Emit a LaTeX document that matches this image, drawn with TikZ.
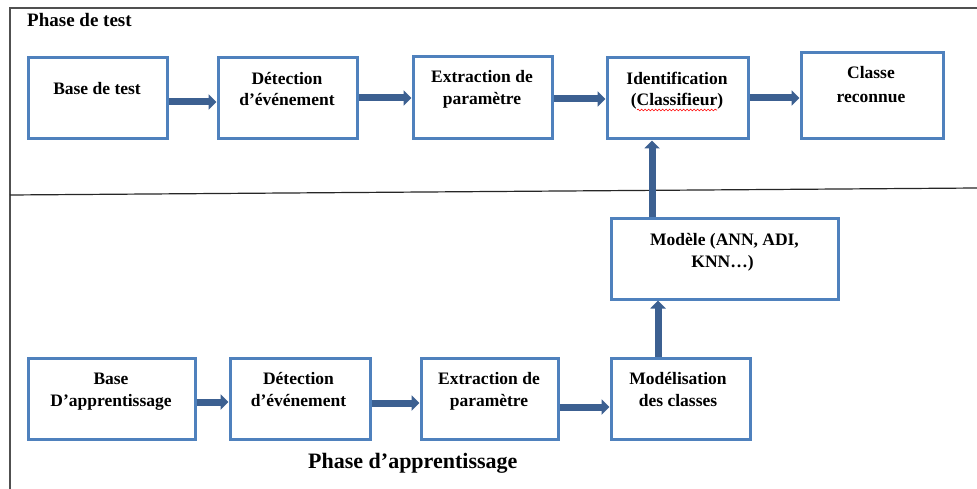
\documentclass[tikz,border=0pt]{standalone}
\usepackage{fontspec}
\setmainfont{Liberation Serif}
\usetikzlibrary{arrows.meta,calc,decorations.pathmorphing}
\definecolor{boxblue}{RGB}{79,129,189}
\definecolor{arrblue}{RGB}{60,96,145}
\definecolor{framegray}{RGB}{80,80,80}
\begin{document}
\begin{tikzpicture}[x=1pt,y=-1pt,
  box/.style={draw=boxblue,line width=3pt,rectangle,inner sep=0pt,minimum height=81pt},
  arr/.style={draw=arrblue,line width=7pt,-{Triangle[length=8pt,width=15pt]}},
  lbl/.style={anchor=base,inner sep=0pt,font=\fontsize{17.5}{21}\selectfont\bfseries},
  head/.style={anchor=base west,inner sep=0pt,font=\fontsize{19}{23}\selectfont\bfseries},
  frame/.style={draw=framegray,line width=1.3pt}]
\useasboundingbox (0,0) rectangle (977,489);
\fill[white] (0,0) rectangle (977,489);

% frame and divider
\coordinate (fTL) at (10,8);
\coordinate (fTR) at (977,8);
\coordinate (fBL) at (10,489);
\coordinate (dL) at (10,195);
\coordinate (dR) at (977,188);
\draw[frame] (fTR) -- (fTL) -- (fBL);
\draw[draw=black!85,line width=1.2pt] (dL) -- (dR);

% headings
\node[head] (h1) at (27,26.5) {Phase de test};
\node[head,font=\fontsize{22}{26}\selectfont\bfseries] (h2) at (308,468) {Phase d’apprentissage};

% top row
\node[box,minimum width=139pt] (T1) at (97.5,98.5) {};
\node[box,minimum width=139pt] (T2) at (287.5,98.5) {};
\node[box,minimum width=139pt,minimum height=82pt] (T3) at (482.5,98) {};
\node[box,minimum width=141pt] (T4) at (677.5,98.5) {};
\node[box,minimum width=142pt,minimum height=86pt] (T5) at (872,96) {};
\node[box,minimum width=227pt,minimum height=80pt] (M) at (724.5,259) {};

% bottom row
\node[box,minimum width=167pt] (B1) at (111.5,398.5) {};
\node[box,minimum width=140pt] (B2) at (300,398.5) {};
\node[box,minimum width=137pt] (B3) at (489.5,398.5) {};
\node[box,minimum width=139pt] (B4) at (680.5,398.5) {};

% labels
\node[lbl] (t1) at (97,95) {Base de test};
\node[lbl] (t2a) at (287,85) {Détection};
\node[lbl] (t2b) at (287,106) {d’événement};
\node[lbl] (t3a) at (482,83) {Extraction de};
\node[lbl] (t3b) at (482,105) {paramètre};
\node[lbl] (t4a) at (677,85) {Identification};
\node[lbl] (t4b) at (677,106) {(Classifieur)};
\node[lbl] (t5a) at (871,79) {Classe};
\node[lbl] (t5b) at (871,103) {reconnue};
\node[lbl] (ma) at (724.5,245) {Modèle (ANN, ADI,};
\node[lbl] (mb) at (722.5,267) {KNN…)};
\node[lbl] (b1a) at (111,384) {Base};
\node[lbl] (b1b) at (111,406) {D’apprentissage};
\node[lbl] (b2a) at (298.5,384) {Détection};
\node[lbl] (b2b) at (298.5,406) {d’événement};
\node[lbl] (b3a) at (489,384) {Extraction de};
\node[lbl] (b3b) at (489,406) {paramètre};
\node[lbl] (b4a) at (678,384) {Modélisation};
\node[lbl] (b4b) at (678,406) {des classes};

% spell-check squiggle under Classifieur
\coordinate (sqL) at (637,110);
\coordinate (sqR) at (717,110);
\draw[red,line width=0.6pt,decorate,decoration={snake,amplitude=0.9pt,segment length=3.5pt}] (sqL) -- (sqR);

% arrows top
\draw[arr] ([yshift=-3.5pt]T1.east) -- ([yshift=-3.5pt]T2.west);
\draw[arr] ([yshift=0.5pt]T2.east) -- (T3.west);
\draw[arr] ([yshift=-1pt]T3.east) -- ([yshift=-0.5pt]T4.west);
\draw[arr] ([yshift=0.5pt]T4.east) -- ([yshift=-2pt]T5.west);
\draw[arr] ([xshift=-72.5pt]M.north) -- ([xshift=-25.5pt]T4.south);

% arrows bottom
\draw[arr] ([yshift=-3.5pt]B1.east) -- ([yshift=-3.5pt]B2.west);
\draw[arr] ([yshift=-4.5pt]B2.east) -- ([yshift=-4.5pt]B3.west);
\draw[arr] ([yshift=-8.5pt]B3.east) -- ([yshift=-8.5pt]B4.west);
\draw[arr] ([xshift=-22.5pt]B4.north) -- ([xshift=-66.5pt]M.south);
\end{tikzpicture}
\end{document}
